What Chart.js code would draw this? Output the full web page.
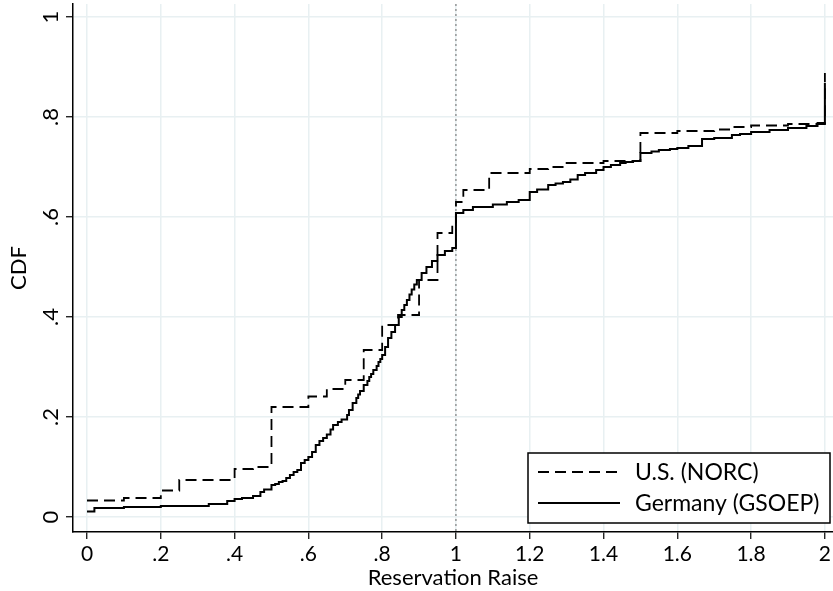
<!DOCTYPE html>
<html>
<head>
<meta charset="utf-8">
<script src="https://cdn.jsdelivr.net/npm/chart.js@4/dist/chart.umd.min.js"></script>
<style>
  html, body { margin: 0; padding: 0; background: #fff; }
  #wrap { width: 833px; height: 591px; }
</style>
</head>
<body>
<div id="wrap"><canvas id="cdf"></canvas></div>
<script>
// CDF step points: x = reservation raise, y = cumulative share (level after the jump)
const usX = [0, 0.1, 0.2, 0.25, 0.4, 0.45, 0.5, 0.6, 0.65, 0.7, 0.75, 0.8, 0.843, 0.9, 0.95, 0.99, 1.0, 1.02, 1.09, 1.2, 1.25, 1.3, 1.4, 1.5, 1.6, 1.7, 1.75, 1.8, 1.9, 1.98, 2.0];
const usY = [0.033, 0.038, 0.053, 0.074, 0.096, 0.1, 0.22, 0.241, 0.256, 0.274, 0.334, 0.384, 0.404, 0.474, 0.568, 0.584, 0.63, 0.654, 0.688, 0.696, 0.7, 0.708, 0.712, 0.768, 0.772, 0.775, 0.78, 0.783, 0.786, 0.788, 0.888];

const deX = [0, 0.02, 0.1, 0.2, 0.33, 0.38, 0.4, 0.42, 0.45, 0.47, 0.48, 0.5, 0.51, 0.52, 0.53, 0.54, 0.55, 0.56, 0.57, 0.58, 0.59, 0.6, 0.61, 0.62, 0.63, 0.64, 0.65, 0.66, 0.667, 0.68, 0.69, 0.705, 0.71, 0.72, 0.73, 0.735, 0.74, 0.75, 0.76, 0.765, 0.77, 0.776, 0.785, 0.79, 0.795, 0.8, 0.808, 0.816, 0.825, 0.835, 0.845, 0.853, 0.86, 0.867, 0.874, 0.88, 0.887, 0.894, 0.907, 0.92, 0.935, 0.95, 0.97, 0.99, 1.0, 1.02, 1.046, 1.1, 1.138, 1.17, 1.2, 1.22, 1.25, 1.27, 1.29, 1.31, 1.33, 1.35, 1.38, 1.4, 1.42, 1.445, 1.46, 1.48, 1.5, 1.53, 1.55, 1.58, 1.6, 1.63, 1.667, 1.7, 1.748, 1.77, 1.8, 1.85, 1.9, 1.95, 1.98, 2.0];
const deY = [0.011, 0.018, 0.02, 0.022, 0.026, 0.032, 0.036, 0.038, 0.042, 0.05, 0.055, 0.064, 0.066, 0.07, 0.072, 0.078, 0.084, 0.09, 0.094, 0.108, 0.114, 0.12, 0.13, 0.144, 0.152, 0.158, 0.165, 0.175, 0.184, 0.19, 0.195, 0.204, 0.214, 0.228, 0.238, 0.245, 0.252, 0.264, 0.272, 0.28, 0.286, 0.294, 0.302, 0.31, 0.316, 0.324, 0.34, 0.358, 0.37, 0.384, 0.4, 0.414, 0.424, 0.434, 0.445, 0.455, 0.465, 0.474, 0.488, 0.5, 0.512, 0.524, 0.532, 0.538, 0.608, 0.614, 0.62, 0.625, 0.63, 0.634, 0.65, 0.655, 0.664, 0.667, 0.67, 0.675, 0.684, 0.688, 0.694, 0.7, 0.704, 0.708, 0.71, 0.712, 0.728, 0.731, 0.734, 0.736, 0.738, 0.742, 0.756, 0.758, 0.764, 0.766, 0.77, 0.774, 0.778, 0.782, 0.786, 0.868];

const xTicks = [0, 0.2, 0.4, 0.6, 0.8, 1, 1.2, 1.4, 1.6, 1.8, 2];
const yTicks = [0, 0.2, 0.4, 0.6, 0.8, 1];
const seriesNames = ['U.S. (NORC)', 'Germany (GSOEP)'];

const FONT = 'Lato, "DejaVu Sans", sans-serif';
const GRID = '#e8f0f2';

// Stata-style labels: ".2" instead of "0.2"
function stataLabel(v) {
  let s = String(Math.round(v * 10) / 10);
  if (s.startsWith('0.')) s = s.slice(1);
  return s;
}

function toPoints(xs, ys) {
  return xs.map((x, i) => ({ x: x, y: ys[i] }));
}

// dotted reference line at x = 1
const refLine = {
  id: 'refLine',
  beforeDatasetsDraw(chart) {
    const { ctx, chartArea, scales } = chart;
    const px = scales.x.getPixelForValue(1);
    ctx.save();
    ctx.strokeStyle = '#666';
    ctx.lineWidth = 1;
    ctx.setLineDash([2, 3]);
    ctx.beginPath();
    ctx.moveTo(px, chartArea.top);
    ctx.lineTo(px, chartArea.bottom);
    ctx.stroke();
    ctx.restore();
  }
};

// legend box inside the plot, lower right
const boxLegend = {
  id: 'boxLegend',
  afterDatasetsDraw(chart) {
    const ctx = chart.ctx;
    const x0 = 528, y0 = 453, w = 302, h = 70;
    ctx.save();
    ctx.fillStyle = '#fff';
    ctx.fillRect(x0, y0, w, h);
    ctx.strokeStyle = '#000';
    ctx.lineWidth = 1.5;
    ctx.strokeRect(x0, y0, w, h);
    ctx.font = '23px ' + FONT;
    ctx.textBaseline = 'middle';
    ctx.fillStyle = '#000';
    const rows = [472, 503];
    chart.data.datasets.forEach((ds, i) => {
      ctx.strokeStyle = '#000';
      ctx.lineWidth = ds.borderWidth;
      ctx.setLineDash(ds.borderDash || []);
      ctx.beginPath();
      ctx.moveTo(538, rows[i]);
      ctx.lineTo(620, rows[i]);
      ctx.stroke();
      ctx.setLineDash([]);
      ctx.fillText(ds.label, 635, rows[i] + 1);
    });
    ctx.restore();
  }
};

new Chart(document.getElementById('cdf'), {
  type: 'scatter',
  data: {
    datasets: [
      {
        label: seriesNames[0],
        data: toPoints(usX, usY),
        showLine: true,
        stepped: true,
        borderColor: '#000',
        borderWidth: 1.8,
        borderDash: [11, 6],
        pointRadius: 0
      },
      {
        label: seriesNames[1],
        data: toPoints(deX, deY),
        showLine: true,
        stepped: true,
        borderColor: '#000',
        borderWidth: 2,
        pointRadius: 0
      }
    ]
  },
  options: {
    responsive: true,
    maintainAspectRatio: false,
    animation: false,
    layout: { padding: { top: 4, right: 0, left: 0, bottom: 0 } },
    plugins: {
      legend: { display: false },
      tooltip: { enabled: false }
    },
    scales: {
      x: {
        type: 'linear',
        min: -0.038,
        max: 2.022,
        afterBuildTicks: (s) => { s.ticks = xTicks.map(v => ({ value: v })); },
        afterFit: (s) => { s.height = 59; s.paddingLeft = 0; s.paddingRight = 0; },
        grid: { color: GRID, lineWidth: 1.5, tickColor: '#000', tickLength: 7, tickWidth: 1.2 },
        border: { display: true, color: '#000', width: 1.5 },
        ticks: {
          color: '#000',
          font: { family: FONT, size: 21 },
          padding: 3,
          maxRotation: 0,
          autoSkip: false,
          callback: (v) => stataLabel(v)
        },
        title: {
          display: true,
          text: 'Reservation Raise',
          color: '#000',
          font: { family: FONT, size: 22 },
          padding: { top: 0, bottom: 0 }
        }
      },
      y: {
        type: 'linear',
        min: -0.03,
        max: 1.026,
        afterBuildTicks: (s) => { s.ticks = yTicks.map(v => ({ value: v })); },
        afterFit: (s) => { s.width = 73; s.paddingTop = 0; s.paddingBottom = 0; },
        grid: { color: GRID, lineWidth: 1.5, tickColor: '#000', tickLength: 7, tickWidth: 1.2 },
        border: { display: true, color: '#000', width: 1.5 },
        ticks: {
          color: '#000',
          font: { family: FONT, size: 22 },
          padding: 6,
          minRotation: 90,
          maxRotation: 90,
          crossAlign: 'center',
          autoSkip: false,
          callback: (v) => stataLabel(v)
        },
        title: {
          display: true,
          text: 'CDF',
          color: '#000',
          font: { family: FONT, size: 22 },
          padding: { top: 6, bottom: 0 }
        }
      }
    }
  },
  plugins: [refLine, boxLegend]
});
</script>
</body>
</html>
